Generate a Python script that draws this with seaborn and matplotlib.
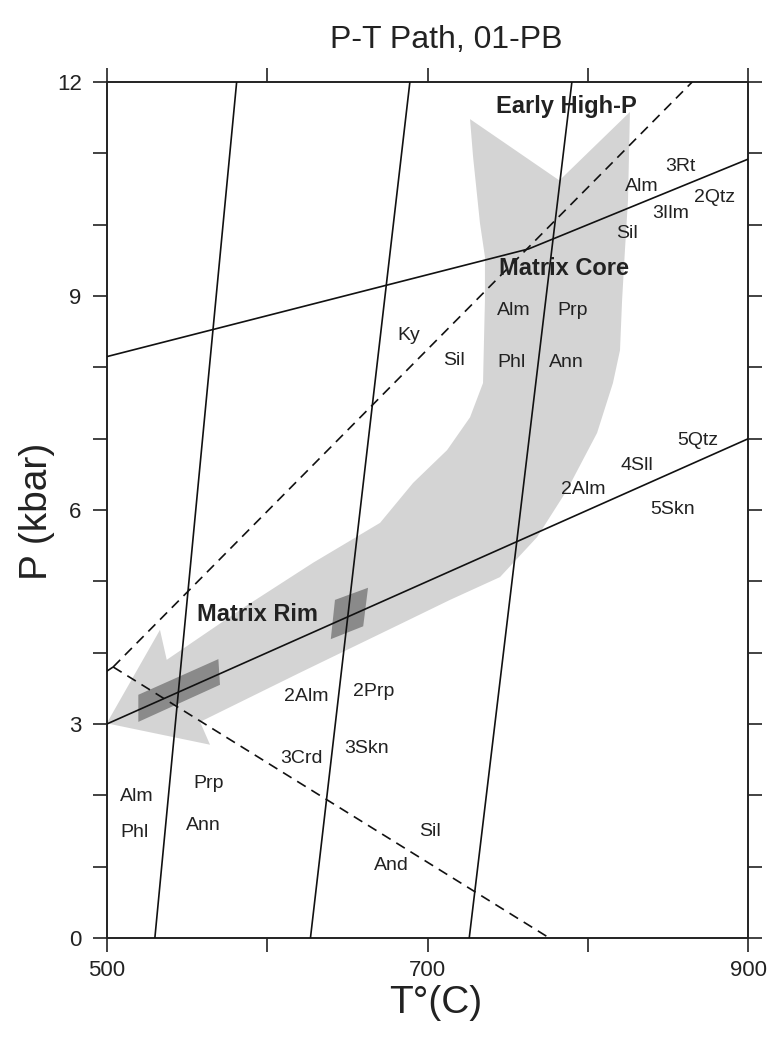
import matplotlib
matplotlib.use("Agg")
import matplotlib.pyplot as plt
import seaborn as sns
import pandas as pd
from matplotlib.patches import Polygon
from matplotlib.ticker import FixedLocator

# Reaction boundaries: temperature (°C) and pressure (kbar)
gb1_T = [530, 581]
gb1_P = [0, 12]
gb2_T = [627, 689]
gb2_P = [0, 12]
gb3_T = [726, 790]
gb3_P = [0, 12]
grail_T = [500, 763, 900]
grail_P = [8.15, 9.66, 10.92]
gasp_T = [500, 900]
gasp_P = [3.0, 7.0]
ky_sil_T = [504, 865]
ky_sil_P = [3.8, 12]
sil_and_T = [504, 776]
sil_and_P = [3.8, 0]
ky_and_T = [500, 504]
ky_and_P = [3.74, 3.8]

# Outline of the P-T path arrow
path_T = [726.5, 728.4, 732.7, 735.8, 735.8, 735.2, 734.6, 726.5, 712.2, 691.0,
          670.4, 628.6, 583.1, 537.4, 533.2, 500.0, 564.4, 558.2, 620.5, 682.9,
          714.0, 745.2, 768.3, 787.0, 805.7, 815.6, 820.0, 821.3, 823.1, 825.0,
          826.2, 782.2]
path_P = [11.48, 10.95, 10.02, 9.55, 8.94, 8.38, 7.78, 7.30, 6.84, 6.38,
          5.82, 5.26, 4.60, 3.90, 4.32, 3.01, 2.71, 3.03, 3.72, 4.40,
          4.74, 5.06, 5.62, 6.28, 7.08, 7.78, 8.24, 8.94, 9.65, 10.35,
          11.58, 10.62]

# Estimated conditions from rim and core compositions
rim_box_T = [519.7, 569.6, 570.6, 519.7]
rim_box_P = [3.41, 3.91, 3.55, 3.03]
core_box_T = [642.3, 662.9, 659.9, 639.7]
core_box_P = [4.74, 4.91, 4.37, 4.19]

# Stage names
stage_text = ["Early High-P", "Matrix Core", "Matrix Rim"]
stage_T = [786.8, 785.1, 594.0]
stage_P = [11.65, 9.39, 4.53]

# Phase labels along the reactions
phase_text = ["3Rt", "Alm", "2Qtz", "3Ilm", "Sil",
              "Alm", "Prp", "Phl", "Ann", "Ky", "Sil",
              "5Qtz", "4Sll", "2Alm", "5Skn",
              "2Alm", "2Prp", "3Crd", "3Skn",
              "Alm", "Phl", "Prp", "Ann", "Sil", "And"]
phase_T = [857.9, 833.5, 879.2, 851.6, 824.2,
           753.5, 790.3, 752.5, 786.8, 688.0, 716.5,
           868.2, 830.8, 796.8, 852.9,
           624.7, 666.2, 621.6, 662.1,
           518.7, 517.6, 563.3, 560.2, 701.6, 677.7]
phase_P = [10.82, 10.54, 10.38, 10.16, 9.87,
           8.80, 8.80, 8.07, 8.07, 8.45, 8.10,
           6.98, 6.63, 6.29, 6.01,
           3.38, 3.45, 2.52, 2.66,
           1.99, 1.48, 2.17, 1.58, 1.50, 1.02]

x_major = [500, 700, 900]
x_minor = [600, 800]
y_major = [0, 3, 6, 9, 12]
y_minor = [1, 2, 4, 5, 7, 8, 10, 11]

sns.set_style("ticks")
plt.rcParams["font.family"] = ["Liberation Sans", "DejaVu Sans"]

fig = plt.figure(figsize=(7.69, 10.38), dpi=100)
ax = fig.add_axes([0.1388, 0.0963, 0.9731 - 0.1388, 0.921 - 0.0963])

# P-T path and estimated conditions
ax.add_patch(Polygon(list(zip(path_T, path_P)), closed=True,
                     facecolor="#d4d4d4", edgecolor="none", zorder=1))
for bt, bp in [(rim_box_T, rim_box_P), (core_box_T, core_box_P)]:
    ax.add_patch(Polygon(list(zip(bt, bp)), closed=True,
                         facecolor="#8a8a8a", edgecolor="none", zorder=2))

solid = [(gb1_T, gb1_P), (gb2_T, gb2_P), (gb3_T, gb3_P),
         (grail_T, grail_P), (gasp_T, gasp_P)]
dashed = [(ky_sil_T, ky_sil_P), (sil_and_T, sil_and_P), (ky_and_T, ky_and_P)]

for t, p in solid:
    df = pd.DataFrame({"T": t, "P": p})
    sns.lineplot(data=df, x="T", y="P", ax=ax, color="#111111", lw=1.2,
                 sort=False, estimator=None, zorder=3)
for t, p in dashed:
    df = pd.DataFrame({"T": t, "P": p})
    sns.lineplot(data=df, x="T", y="P", ax=ax, color="#111111", lw=1.2,
                 sort=False, estimator=None, zorder=3, dashes=False,
                 linestyle=(0, (6, 4)))

for s, t, p in zip(stage_text, stage_T, stage_P):
    ax.text(t, p, s, ha="center", va="center", fontsize=17,
            fontweight="bold", color="#222222", zorder=4)
for s, t, p in zip(phase_text, phase_T, phase_P):
    ax.text(t, p, s, ha="center", va="center", fontsize=14,
            color="#222222", zorder=4)

ax.set_xlim(500, 900)
ax.set_ylim(0, 12)
ax.set_xlabel("")
ax.set_ylabel("")

ax.xaxis.set_major_locator(FixedLocator(x_major))
ax.xaxis.set_minor_locator(FixedLocator(x_minor))
ax.yaxis.set_major_locator(FixedLocator(y_major))
ax.yaxis.set_minor_locator(FixedLocator(y_minor))
ax.tick_params(which="both", direction="out", length=10, width=1.2,
               color="#222222", top=True, right=True)
ax.tick_params(axis="x", which="major", labelsize=16, pad=6,
               labelcolor="#222222")
ax.tick_params(axis="y", which="major", labelsize=16, pad=8,
               labelcolor="#222222")
for sp in ax.spines.values():
    sp.set_visible(True)
    sp.set_linewidth(1.4)
    sp.set_color("#222222")

fig.text(0.58, 0.961, "P-T Path, 01-PB", ha="center", va="center",
         fontsize=23, color="#222222")
fig.text(0.566, 0.034, "T\u00b0(C)", ha="center", va="center",
         fontsize=28, color="#222222")
fig.text(0.048, 0.507, "P (kbar)", ha="center", va="center",
         fontsize=28, rotation=90, color="#222222")

fig.savefig("out.png", dpi=100)
